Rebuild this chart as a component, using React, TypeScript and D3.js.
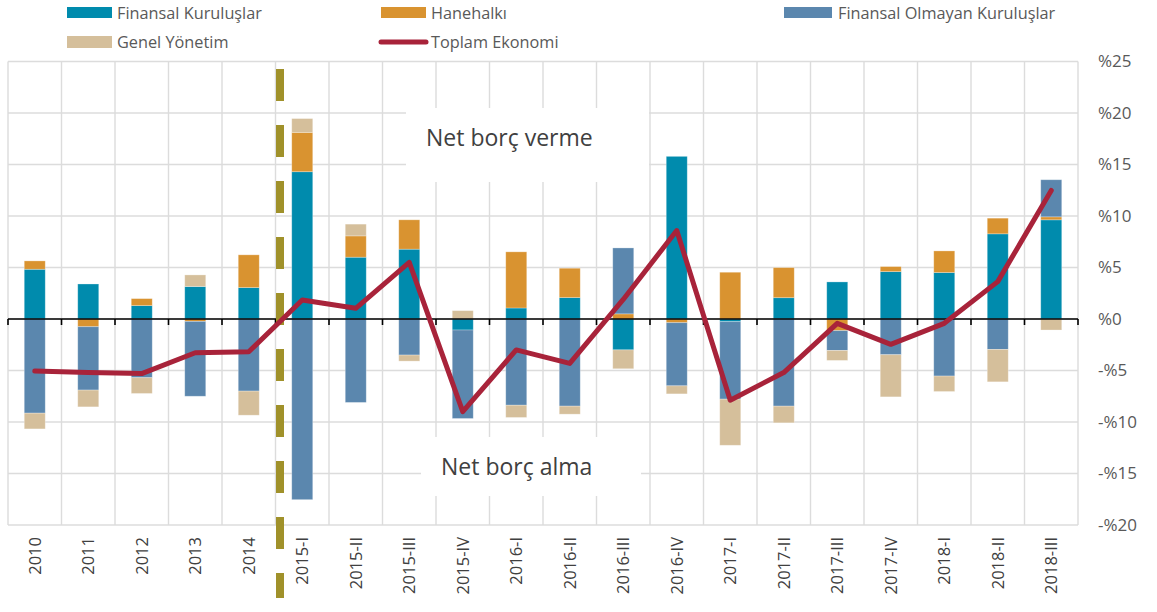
import React from "react";
import * as d3 from "d3";

const categories = [
  "2010", "2011", "2012", "2013", "2014",
  "2015-I", "2015-II", "2015-III", "2015-IV",
  "2016-I", "2016-II", "2016-III", "2016-IV",
  "2017-I", "2017-II", "2017-III", "2017-IV",
  "2018-I", "2018-II", "2018-III",
];

const finansal = [4.83, 3.4, 1.3, 3.15, 3.05, 14.3, 6.0, 6.78, -1.07, 1.07, 2.08, -3.0, 15.79, -0.26, 2.07, 3.6, 4.6, 4.51, 8.27, 9.63];
const hanehalki = [0.81, -0.75, 0.68, -0.23, 3.18, 3.82, 2.07, 2.85, 0, 5.45, 2.85, 0.5, -0.36, 4.54, 2.92, -1.13, 0.49, 2.1, 1.52, 0.29];
const finansalOlmayan = [-9.14, -6.15, -5.7, -7.27, -7.0, -17.54, -8.1, -3.5, -8.59, -8.37, -8.46, 6.4, -6.13, -7.52, -8.46, -1.92, -3.47, -5.54, -2.95, 3.6];
const genelYonetim = [-1.53, -1.63, -1.53, 1.13, -2.34, 1.34, 1.14, -0.59, 0.81, -1.19, -0.78, -1.83, -0.78, -4.48, -1.62, -0.97, -4.09, -1.5, -3.15, -1.07];
const toplamEkonomi = [-5.06, -5.2, -5.3, -3.28, -3.18, 1.85, 1.04, 5.5, -9.0, -3.0, -4.31, 1.9, 8.59, -7.88, -5.2, -0.42, -2.46, -0.42, 3.63, 12.48];

const yTicks = [25, 20, 15, 10, 5, 0, -5, -10, -15, -20];

const seriesKeys = ["fin", "hane", "nfc", "gen"];
const seriesColors: Record<string, string> = {
  fin: "#008bad",
  hane: "#d99330",
  nfc: "#5b87ae",
  gen: "#d5bf9b",
};
const lineColor = "#a8233a";
const font = "'Open Sans', 'Noto Sans', sans-serif";

const W = 1157;
const H = 612;
const margin = { left: 8, right: 79, top: 61.5, bottom: 87 };

const fmt = (v: number) => (v < 0 ? `-%${-v}` : `%${v}`);

export default function App() {
  const x = d3
    .scaleBand<string>()
    .domain(categories)
    .range([margin.left, W - margin.right]);
  const y = d3
    .scaleLinear()
    .domain([-20, 25])
    .range([H - margin.bottom, margin.top]);

  const rows = categories.map((c, i) => ({
    cat: c,
    fin: finansal[i],
    hane: hanehalki[i],
    nfc: finansalOlmayan[i],
    gen: genelYonetim[i],
  }));

  const stacked = d3
    .stack<any>()
    .keys(seriesKeys)
    .offset(d3.stackOffsetDiverging)(rows);

  const bw = x.bandwidth();
  const barW = 21;
  const cx = (c: string) => (x(c) ?? 0) + bw / 2;

  const line = d3
    .line<number>()
    .x((_, i) => cx(categories[i]))
    .y((d) => y(d));

  const boundaries = categories.map((c) => x(c) ?? 0).concat([W - margin.right]);
  const dashX = (x("2015-I") ?? 0) + 4.5;

  return (
    <svg
      width={W}
      height={H}
      style={{ position: "absolute", left: 0, top: 0, background: "#fff" }}
      fontFamily={font}
    >
      {/* grid */}
      <g stroke="#dcdcdc" strokeWidth={1.4}>
        {yTicks.map((t) => (
          <line key={"h" + t} x1={margin.left} x2={W - margin.right} y1={y(t)} y2={y(t)} />
        ))}
        {boundaries.map((b, i) => (
          <line key={"v" + i} x1={b} x2={b} y1={y(25)} y2={y(-20)} />
        ))}
      </g>

      {/* annotation boxes */}
      <rect x={406} y={108} width={243} height={74} fill="#fff" />
      <text x={426} y={146} fontSize={23} fill="#404040">Net borç verme</text>
      <rect x={421} y={437} width={220} height={59} fill="#fff" />
      <text x={441} y={475} fontSize={23} fill="#404040">Net borç alma</text>

      {/* bars */}
      {stacked.map((s) => (
        <g key={s.key} fill={seriesColors[s.key]}>
          {s.map((d, i) =>
            d[1] - d[0] === 0 ? null : (
              <rect
                key={i}
                x={cx(categories[i]) - barW / 2}
                y={y(d[1])}
                width={barW}
                height={y(d[0]) - y(d[1])}
                stroke="#ffffff"
                strokeOpacity={0.35}
                strokeWidth={0.8}
              />
            )
          )}
        </g>
      ))}

      {/* zero axis */}
      <line x1={margin.left} x2={W - margin.right} y1={y(0)} y2={y(0)} stroke="#000" strokeWidth={1.6} />
      {boundaries.map((b, i) => (
        <line key={"t" + i} x1={b} x2={b} y1={y(0)} y2={y(0) + 6} stroke="#000" strokeWidth={1.6} />
      ))}

      {/* divider */}
      <line
        x1={dashX}
        x2={dashX}
        y1={69}
        y2={598}
        stroke="#a0912a"
        strokeWidth={8}
        strokeDasharray="32,24"
      />

      {/* total line */}
      <path
        d={line(toplamEkonomi) ?? ""}
        fill="none"
        stroke={lineColor}
        strokeWidth={5}
        strokeLinejoin="round"
        strokeLinecap="round"
      />

      {/* y labels */}
      {yTicks.map((t) => (
        <text
          key={"yl" + t}
          x={1098}
          y={y(t)}
          dy="0.35em"
          fontSize={17}
          fill="#595959"
        >
          {fmt(t)}
        </text>
      ))}

      {/* x labels */}
      {categories.map((c) => (
        <text
          key={"xl" + c}
          transform={`translate(${cx(c)},${y(-20) + 12}) rotate(-90)`}
          textAnchor="end"
          dy="0.35em"
          fontSize={16.5}
          fill="#404040"
        >
          {c}
        </text>
      ))}

      {/* legend */}
      <g fontSize={16.3} fill="#595959">
        <rect x={67} y={7} width={45} height={11} fill={seriesColors.fin} />
        <text x={117} y={13} dy="0.35em">Finansal Kuruluşlar</text>
        <rect x={381} y={7} width={45} height={11} fill={seriesColors.hane} />
        <text x={431} y={13} dy="0.35em">Hanehalkı</text>
        <rect x={784} y={7} width={48} height={11} fill={seriesColors.nfc} />
        <text x={838} y={13} dy="0.35em">Finansal Olmayan Kuruluşlar</text>
        <rect x={67} y={36} width={45} height={12} fill={seriesColors.gen} />
        <text x={117} y={42} dy="0.35em">Genel Yönetim</text>
        <line x1={381} x2={426} y1={42} y2={42} stroke={lineColor} strokeWidth={5} strokeLinecap="round" />
        <text x={431} y={42} dy="0.35em">Toplam Ekonomi</text>
      </g>
    </svg>
  );
}
